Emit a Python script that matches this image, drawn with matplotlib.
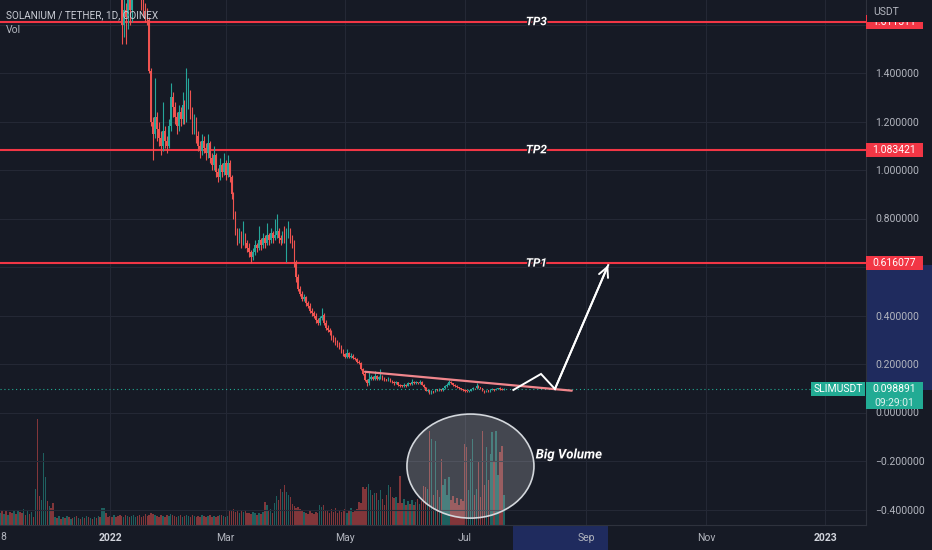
import matplotlib
matplotlib.use("Agg")
import matplotlib.pyplot as plt
import matplotlib.patheffects as pe
from matplotlib.patches import Ellipse, Rectangle
from matplotlib.transforms import IdentityTransform, blended_transform_factory
import numpy as np

plt.rcParams['font.family'] = ['Roboto', 'DejaVu Sans']

# ---------------- data (daily candles, day 0 = 2022-01-01) ----------------
start_day = -56
first_open = 2.50
close = [
    2.60, 2.52, 2.58, 2.49, 2.55, 2.47, 2.40, 2.46, 2.38, 2.44,
    2.36, 2.31, 2.37, 2.30, 2.35, 2.28, 2.32, 2.26, 2.36, 2.05,
    2.00, 2.12, 2.30, 2.38, 2.30, 2.34, 2.28, 2.22, 2.25, 2.20,
    2.23, 2.18, 2.21, 2.16, 2.19, 2.14, 2.17, 2.12, 2.15, 2.10,
    2.13, 2.08, 2.11, 2.06, 2.09, 2.04, 2.07, 2.02, 2.05, 2.00,
    2.03, 1.98, 2.04, 2.08, 2.00, 1.95, 1.92, 1.88, 1.93, 1.86,
    1.82, 1.78, 1.60, 1.66, 1.63, 1.70, 1.66, 1.74, 1.80, 1.86,
    1.82, 1.77, 1.68, 1.66, 1.64, 1.62, 1.41, 1.20, 1.15, 1.22,
    1.17, 1.13, 1.10, 1.16, 1.12, 1.10, 1.18, 1.30, 1.26, 1.22,
    1.18, 1.24, 1.21, 1.27, 1.22, 1.28, 1.31, 1.24, 1.18, 1.20,
    1.14, 1.10, 1.08, 1.12, 1.09, 1.07, 1.11, 1.05, 1.02, 1.06,
    0.99, 0.97, 1.02, 0.99, 1.03, 0.98, 1.03, 0.97, 0.90, 0.82,
    0.75, 0.71, 0.74, 0.70, 0.73, 0.70, 0.68, 0.66, 0.64, 0.66,
    0.69, 0.68, 0.71, 0.69, 0.72, 0.70, 0.73, 0.71, 0.74, 0.72,
    0.73, 0.75, 0.72, 0.71, 0.73, 0.72, 0.74, 0.75, 0.72, 0.70,
    0.62, 0.56, 0.51, 0.49, 0.47, 0.475, 0.45, 0.44, 0.42, 0.41,
    0.40, 0.38, 0.37, 0.39, 0.40, 0.37, 0.35, 0.34, 0.33, 0.31,
    0.30, 0.29, 0.28, 0.27, 0.25, 0.24, 0.23, 0.245, 0.23, 0.235,
    0.225, 0.22, 0.21, 0.205, 0.18, 0.16, 0.135, 0.12, 0.14, 0.145,
    0.14, 0.15, 0.14, 0.145, 0.15, 0.14, 0.135, 0.133, 0.14, 0.13,
    0.125, 0.12, 0.125, 0.115, 0.11, 0.108, 0.115, 0.11, 0.12, 0.118,
    0.125, 0.12, 0.125, 0.12, 0.126, 0.115, 0.105, 0.09, 0.092, 0.08,
    0.088, 0.086, 0.095, 0.093, 0.096, 0.092, 0.10, 0.11, 0.115, 0.125,
    0.12, 0.115, 0.11, 0.105, 0.10, 0.095, 0.092, 0.09, 0.088, 0.09,
    0.095, 0.10, 0.099, 0.11, 0.105, 0.10, 0.09, 0.085, 0.09, 0.088,
    0.093, 0.096, 0.093, 0.098, 0.099, 0.096, 0.094, 0.098891,
]
high = [
    2.68, 2.64, 2.63, 2.61, 2.59, 2.58, 2.50, 2.50, 2.49, 2.48,
    2.47, 2.39, 2.41, 2.40, 2.39, 2.38, 2.36, 2.35, 2.45, 2.48,
    2.12, 2.18, 2.40, 2.46, 2.42, 2.39, 2.37, 2.31, 2.28, 2.28,
    2.26, 2.26, 2.24, 2.24, 2.22, 2.22, 2.20, 2.20, 2.18, 2.18,
    2.16, 2.16, 2.14, 2.14, 2.12, 2.12, 2.10, 2.10, 2.08, 2.08,
    2.06, 2.06, 2.09, 2.13, 2.10, 2.02, 1.98, 1.95, 1.97, 1.95,
    1.89, 1.85, 1.80, 1.72, 1.69, 1.76, 1.73, 1.79, 1.86, 1.92,
    1.89, 1.85, 1.79, 1.71, 1.69, 1.67, 1.63, 1.42, 1.22, 1.38,
    1.24, 1.20, 1.16, 1.28, 1.18, 1.14, 1.21, 1.36, 1.32, 1.28,
    1.24, 1.27, 1.26, 1.32, 1.29, 1.42, 1.38, 1.33, 1.26, 1.23,
    1.22, 1.16, 1.12, 1.15, 1.14, 1.11, 1.15, 1.12, 1.07, 1.10,
    1.07, 1.01, 1.05, 1.03, 1.07, 1.04, 1.06, 1.04, 0.98, 0.91,
    0.83, 0.76, 0.76, 0.75, 0.79, 0.74, 0.71, 0.70, 0.67, 0.68,
    0.71, 0.70, 0.77, 0.72, 0.74, 0.73, 0.78, 0.74, 0.76, 0.75,
    0.80, 0.82, 0.76, 0.73, 0.75, 0.77, 0.76, 0.79, 0.76, 0.73,
    0.71, 0.63, 0.57, 0.52, 0.50, 0.49, 0.48, 0.46, 0.45, 0.43,
    0.42, 0.41, 0.39, 0.40, 0.43, 0.41, 0.38, 0.36, 0.35, 0.34,
    0.32, 0.31, 0.30, 0.29, 0.28, 0.26, 0.245, 0.26, 0.25, 0.245,
    0.24, 0.23, 0.225, 0.215, 0.21, 0.185, 0.165, 0.14, 0.165, 0.155,
    0.15, 0.17, 0.155, 0.15, 0.18, 0.155, 0.145, 0.14, 0.145, 0.142,
    0.133, 0.128, 0.13, 0.127, 0.118, 0.113, 0.12, 0.117, 0.124, 0.123,
    0.14, 0.128, 0.13, 0.127, 0.135, 0.128, 0.117, 0.107, 0.095, 0.094,
    0.092, 0.09, 0.098, 0.097, 0.099, 0.098, 0.103, 0.113, 0.12, 0.135,
    0.128, 0.122, 0.117, 0.112, 0.107, 0.102, 0.097, 0.096, 0.093, 0.094,
    0.098, 0.104, 0.103, 0.12, 0.112, 0.107, 0.102, 0.092, 0.093, 0.092,
    0.096, 0.099, 0.098, 0.101, 0.102, 0.107, 0.099, 0.101,
]
low = [
    2.46, 2.48, 2.49, 2.45, 2.46, 2.43, 2.36, 2.37, 2.34, 2.35,
    2.32, 2.27, 2.28, 2.26, 2.27, 2.24, 2.25, 2.22, 2.20, 1.95,
    1.90, 1.96, 2.08, 2.25, 2.26, 2.27, 2.24, 2.18, 2.19, 2.17,
    2.17, 2.15, 2.15, 2.13, 2.13, 2.11, 2.11, 2.09, 2.09, 2.07,
    2.07, 2.05, 2.05, 2.03, 2.03, 2.01, 2.01, 1.99, 1.99, 1.97,
    1.97, 1.95, 1.94, 2.00, 1.96, 1.91, 1.88, 1.84, 1.85, 1.82,
    1.78, 1.73, 1.52, 1.55, 1.52, 1.58, 1.60, 1.61, 1.72, 1.76,
    1.74, 1.71, 1.66, 1.63, 1.61, 1.60, 1.40, 1.18, 1.04, 1.13,
    1.12, 1.10, 1.06, 1.08, 1.09, 1.07, 1.09, 1.16, 1.22, 1.19,
    1.15, 1.16, 1.18, 1.19, 1.19, 1.20, 1.25, 1.21, 1.15, 1.15,
    1.11, 1.08, 1.05, 1.06, 1.07, 1.04, 1.05, 1.03, 1.00, 1.00,
    0.97, 0.95, 0.96, 0.97, 0.98, 0.96, 0.97, 0.95, 0.88, 0.80,
    0.73, 0.69, 0.70, 0.68, 0.69, 0.68, 0.66, 0.64, 0.615, 0.63,
    0.65, 0.66, 0.67, 0.67, 0.68, 0.68, 0.69, 0.69, 0.70, 0.70,
    0.71, 0.72, 0.70, 0.69, 0.70, 0.70, 0.62, 0.72, 0.70, 0.68,
    0.60, 0.54, 0.50, 0.48, 0.46, 0.46, 0.44, 0.43, 0.41, 0.40,
    0.39, 0.37, 0.36, 0.36, 0.38, 0.36, 0.34, 0.33, 0.32, 0.30,
    0.29, 0.28, 0.27, 0.26, 0.245, 0.235, 0.225, 0.225, 0.225, 0.225,
    0.22, 0.215, 0.205, 0.20, 0.175, 0.155, 0.13, 0.11, 0.115, 0.135,
    0.135, 0.135, 0.135, 0.135, 0.14, 0.135, 0.13, 0.128, 0.13, 0.125,
    0.12, 0.115, 0.117, 0.11, 0.105, 0.104, 0.105, 0.106, 0.108, 0.114,
    0.115, 0.116, 0.117, 0.116, 0.118, 0.112, 0.10, 0.087, 0.085, 0.077,
    0.078, 0.082, 0.084, 0.09, 0.09, 0.088, 0.09, 0.098, 0.107, 0.112,
    0.116, 0.111, 0.106, 0.101, 0.096, 0.091, 0.088, 0.086, 0.084, 0.085,
    0.087, 0.093, 0.095, 0.097, 0.101, 0.096, 0.087, 0.082, 0.083, 0.085,
    0.086, 0.091, 0.09, 0.091, 0.095, 0.094, 0.092, 0.093,
]
volume = [
    12, 14, 11, 15, 10, 13, 12, 14, 11, 15,
    13, 12, 16, 10, 14, 11, 13, 8, 36, 106,
    29, 25, 72, 48, 24, 19, 17, 22, 8, 7,
    9, 6, 8, 7, 9, 8, 6, 7, 8, 9,
    7, 6, 8, 7, 9, 8, 7, 6, 8, 7,
    9, 8, 17, 17, 12, 8, 9, 8, 10, 8,
    9, 10, 9, 8, 10, 9, 8, 9, 10, 8,
    9, 10, 8, 9, 11, 9, 10, 12, 11, 10,
    9, 8, 10, 9, 8, 10, 9, 11, 10, 9,
    8, 9, 10, 8, 9, 10, 9, 8, 10, 9,
    8, 9, 8, 10, 9, 8, 9, 10, 8, 9,
    8, 9, 10, 10, 9, 8, 9, 15, 14, 16,
    13, 15, 12, 14, 13, 15, 12, 12, 11, 13,
    12, 10, 12, 11, 13, 23, 20, 14, 16, 12,
    22, 29, 25, 36, 33, 40, 33, 30, 28, 21,
    19, 17, 18, 16, 14, 13, 12, 11, 14, 12,
    11, 13, 12, 20, 18, 20, 15, 14, 12, 16,
    13, 17, 12, 15, 13, 14, 16, 12, 15, 17,
    13, 14, 16, 23, 22, 38, 36, 38, 41, 35,
    30, 32, 32, 25, 35, 26, 20, 30, 40, 38,
    28, 27, 28, 22, 49, 22, 26, 20, 24, 21,
    25, 20, 23, 26, 21, 24, 39, 38, 36, 94,
    86, 30, 84, 35, 28, 66, 40, 46, 30, 48,
    25, 29, 22, 27, 20, 26, 24, 81, 78, 35,
    66, 86, 30, 36, 63, 28, 94, 40, 78, 45,
    71, 93, 63, 94, 50, 73, 79, 30,
]

tp_names = ['TP3', 'TP2', 'TP1']
tp_levels = [1.611511, 1.083421, 0.616077]
last_price = 0.098891
countdown = '09:29:01'
symbol = 'SLIMUSDT'
title = 'SOLANIUM / TETHER, 1D, COINEX'

# drawings (day, price)
trend_days = [130.1, 235.6]
trend_prices = [0.168, 0.090]
path_days = [205.8, 219.9, 227.0]
path_prices = [0.093, 0.159, 0.097]
tip_day, tip_price = 254.2, 0.608
ell_day, ell_price, ell_w, ell_h = 183.9, -0.221, 64.8, 0.429
tp_text_day = 217.5
bigvol_day, bigvol_price = 234.2, -0.175

price_ticks = [-0.4, -0.2, 0.0, 0.2, 0.4, 0.6, 0.8, 1.0, 1.2, 1.4, 1.6]
hidden_tick_labels = [0.6, 1.6]   # covered by the TP price labels
month_pos = [0, 59, 120, 181, 243, 304, 365]
month_lab = ['2022', 'Mar', 'May', 'Jul', 'Sep', 'Nov', '2023']

# ---------------- style ----------------
BG = '#161a25'
GRID = '#242835'
TXT = '#b2b5be'
UP = '#26a69a'
DN = '#ef5350'
TPRED = '#f23645'
TEAL = '#22ab94'
PINK = '#f0868c'
SEL = '#1f2b5e'
SPINE = '#2e323d'

W, H = 932, 550
fig = plt.figure(figsize=(W / 100, H / 100), dpi=100)
fig.patch.set_facecolor(BG)
ax = fig.add_axes([0, 25 / H, 866 / W, 525 / H])
ax.set_xlim(-110 / 1.96, (866 - 110) / 1.96)
ax.set_ylim((412.5 - 525) / 242.5, 412.5 / 242.5)

ax2 = ax.twinx()
ax2.set_ylim(0, 525)
ax2.set_zorder(1)
ax.set_zorder(2)
ax.patch.set_visible(False)
ax2.patch.set_visible(False)
for s in ax2.spines.values():
    s.set_visible(False)
ax2.set_yticks([])

n = len(close)
c = np.array(close, dtype=float)
hi = np.array(high, dtype=float)
lo = np.array(low, dtype=float)
vol = np.array(volume, dtype=float)
days = start_day + np.arange(n)
op = np.r_[first_open, c[:-1]]
up = c >= op
cols = np.where(up, UP, DN)

# volume
ax2.bar(days, vol, width=0.72, color=cols, alpha=0.5, lw=0)

# candles
ax.vlines(days, lo, hi, colors=cols, lw=0.8, zorder=4)
bb = np.minimum(op, c)
bh = np.maximum(np.abs(c - op), 0.004)
ax.bar(days, bh, bottom=bb, width=0.75, color=cols, lw=0, zorder=5)


def fmt_price(v):
    if any(abs(v - h) < 1e-9 for h in hidden_tick_labels):
        return ''
    if abs(v) < 1e-9:
        return '0.000000'
    return ('%.6f' % v).replace('-', '\u2212')


# grid / axes
ax.set_axisbelow(True)
ax.set_yticks(price_ticks)
ax.set_yticklabels([fmt_price(v) for v in price_ticks])
ax.set_xticks(month_pos)
ax.set_xticklabels(month_lab)
ax.yaxis.tick_right()
ax.grid(True, color=GRID, lw=0.8)
ax.tick_params(axis='y', length=0, pad=6.5, labelsize=7.5, labelcolor=TXT)
ax.tick_params(axis='x', length=0, pad=6, labelsize=7.5, labelcolor=TXT)
for lab in ax.get_xticklabels():
    if lab.get_text() in ('2022', '2023'):
        lab.set_fontweight('bold')
        lab.set_color('#d1d4dc')
for k in ('top', 'left'):
    ax.spines[k].set_visible(False)
for k in ('right', 'bottom'):
    ax.spines[k].set_color(SPINE)
    ax.spines[k].set_linewidth(0.8)

bt = blended_transform_factory(ax.transData, ax.transAxes)
ax.text(-54.6, -12 / 525, '8', transform=bt, ha='center', va='center',
        fontsize=7.5, color=TXT, clip_on=False)

# TP lines
for name, lvl in zip(tp_names, tp_levels):
    ax.axhline(lvl, color=TPRED, lw=1.5, zorder=3)
    ax.text(tp_text_day, lvl, name, ha='center', va='center', color='white',
            fontsize=8.5, fontweight='bold', fontstyle='italic', zorder=7,
            path_effects=[pe.withStroke(linewidth=2, foreground='#1c1f29')])

# last price dotted line
ax.axhline(last_price, color=TEAL, lw=0.8, ls=(0, (1, 2.5)), zorder=3)

# trend line
ax.plot(trend_days, trend_prices, color=PINK, lw=1.6, zorder=6, solid_capstyle='round')
# arrow path
ax.plot(path_days + [tip_day], path_prices + [tip_price], color='white', lw=1.4, zorder=7,
        solid_joinstyle='miter')
ax.annotate('', xy=(tip_day, tip_price), xytext=(path_days[-1], path_prices[-1]),
            arrowprops=dict(arrowstyle='->,head_length=0.7,head_width=0.35', color='white', lw=1.4,
                            shrinkA=0, shrinkB=0), zorder=7)

# ellipse
ax.add_patch(Ellipse((ell_day, ell_price), ell_w, ell_h, facecolor=(1, 1, 1, 0.2),
                     edgecolor='#d3d7dc', lw=1.2, zorder=6))
ax.text(bigvol_day, bigvol_price, 'Big Volume', ha='center', va='center', color='white',
        fontsize=9.5, fontweight='bold', fontstyle='italic', zorder=7,
        path_effects=[pe.withStroke(linewidth=2, foreground='#1c1f29')])

# selection highlights on axes
by = blended_transform_factory(ax.transAxes, ax.transData)
ax.add_patch(Rectangle((1.0, min(path_prices[0], tip_price)), (W - 866) / 866,
                       abs(tip_price - path_prices[0]), transform=by, color=SEL,
                       lw=0, clip_on=False, zorder=0.5))
ax.add_patch(Rectangle((path_days[0], -25 / 525), tip_day - path_days[0], 25 / 525,
                       transform=bt, color=SEL, lw=0, clip_on=False, zorder=0.5))

# ---------------- price-scale labels (pixel space) ----------------
fig.canvas.draw()
ID = IdentityTransform()


def ypix(p):
    return ax.transData.transform((0, p))[1]


def box(x0, x1, yc, h, color, z=10):
    fig.add_artist(Rectangle((x0, yc - h / 2), x1 - x0, h, transform=ID, color=color, lw=0, zorder=z))


for lvl in tp_levels:
    yc = ypix(lvl)
    box(866, 923, yc, 14, TPRED)
    fig.text(894.5, yc, '%.6f' % lvl, transform=ID, ha='center', va='center',
             color='white', fontsize=7.5, zorder=11)

# header cover for the scale title
fig.add_artist(Rectangle((866.5, H - 21.5), W - 866.5, 21.5, transform=ID, color=BG, lw=0, zorder=12))
fig.text(873, H - 12, 'USDT', transform=ID, ha='left', va='center', color=TXT, fontsize=7.5, zorder=13)

yl = ypix(last_price)
fig.add_artist(Rectangle((866, yl - 20.5), 57, 27.5, transform=ID, color=TEAL, lw=0, zorder=10))
fig.text(894.5, yl, '%.6f' % last_price, transform=ID, ha='center', va='center', color='white',
         fontsize=7.5, zorder=11)
fig.text(894.5, yl - 14.5, countdown, transform=ID, ha='center', va='center', color='#e0f2ef',
         fontsize=7.5, zorder=11)
fig.add_artist(Rectangle((810.5, yl - 7), 54.5, 14, transform=ID, color=TEAL, lw=0, zorder=10))
fig.text(838, yl, symbol, transform=ID, ha='center', va='center', color='white', fontsize=7.5, zorder=11)

# legend texts
fig.text(6, H - 15, title, transform=ID, ha='left', va='center', color='#c9ccd4', fontsize=7.2, zorder=13)
fig.text(6, H - 30, 'Vol', transform=ID, ha='left', va='center', color=TXT, fontsize=7.5, zorder=13)

fig.savefig('out.png', dpi=100, facecolor=BG)
